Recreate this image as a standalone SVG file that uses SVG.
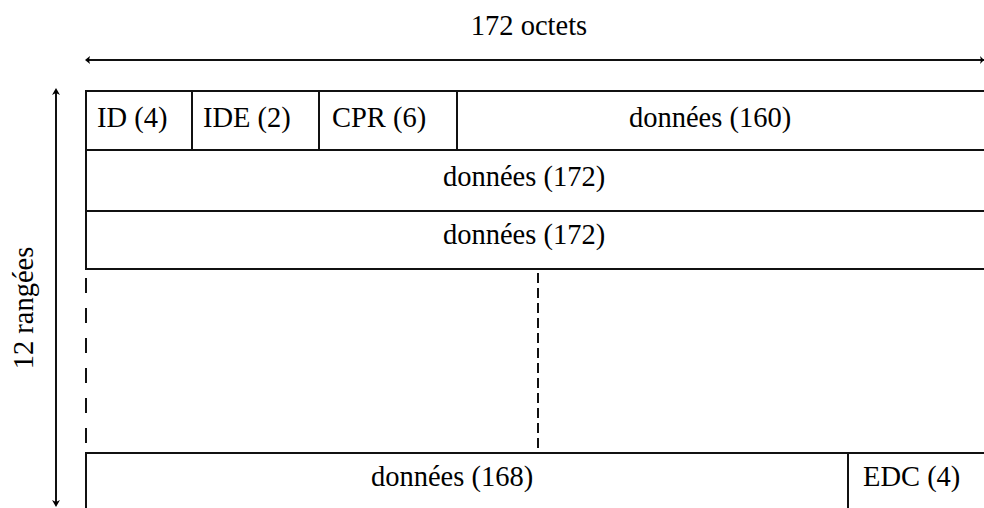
<svg xmlns="http://www.w3.org/2000/svg" width="984" height="508" viewBox="0 0 984 508">
  <style>
    .t { font-family: "Liberation Serif", "DejaVu Serif", "Times New Roman", serif; font-size: 28.5px; fill: #000; }
    .c { text-anchor: middle; }
    .ln { stroke: #111; stroke-width: 2; fill: none; }
    .dashL { stroke: #111; stroke-width: 2; fill: none; stroke-dasharray: 15 15; }
    .dashM { stroke: #111; stroke-width: 2; fill: none; stroke-dasharray: 10 5; }
    .head { fill: #000; stroke: none; }
  </style>
  <rect width="984" height="508" fill="#fff"/>

  <!-- dimension arrows -->
  <g id="dimensions">
    <line class="ln" x1="88" y1="60" x2="984" y2="60"/>
    <path class="head" d="M85,60 L90,56 L89,60 L90,64 Z"/>
    <path class="head" d="M984,60 L980,56 L981,60 L980,64 Z"/>
    <text class="t c" x="529" y="35">172 octets</text>
    <line class="ln" x1="56" y1="92" x2="56" y2="503"/>
    <path class="head" d="M56,88 L52,95 L56,93 L60,95 Z"/>
    <path class="head" d="M56,507 L52,500 L56,502 L60,500 Z"/>
    <text class="t c" transform="translate(33,308) rotate(-90)">12 rangées</text>
  </g>

  <!-- row outlines -->
  <g id="connectors">
    <line class="ln" x1="86" y1="91" x2="984" y2="91"/>
    <line class="ln" x1="86" y1="150" x2="984" y2="150"/>
    <line class="ln" x1="86" y1="211" x2="984" y2="211"/>
    <line class="ln" x1="86" y1="269" x2="984" y2="269"/>
    <line class="ln" x1="86" y1="453" x2="984" y2="453"/>
    <line class="ln" x1="86" y1="90" x2="86" y2="270"/>
    <line class="ln" x1="86" y1="452" x2="86" y2="508"/>
    <line class="dashL" x1="86" y1="278" x2="86" y2="450"/>
    <line class="dashM" x1="538" y1="273" x2="538" y2="452"/>
    <line class="ln" x1="192" y1="91" x2="192" y2="150"/>
    <line class="ln" x1="319" y1="91" x2="319" y2="150"/>
    <line class="ln" x1="457" y1="91" x2="457" y2="150"/>
    <line class="ln" x1="848" y1="453" x2="848" y2="508"/>
  </g>

  <g id="row1">
    <text class="t" x="97" y="127">ID (4)</text>
    <text class="t" x="203" y="127">IDE (2)</text>
    <text class="t" x="332" y="127">CPR (6)</text>
    <text class="t c" x="710" y="127">données (160)</text>
  </g>
  <g id="row2">
    <text class="t c" x="524" y="186">données (172)</text>
  </g>
  <g id="row3">
    <text class="t c" x="524" y="244">données (172)</text>
  </g>
  <g id="row12">
    <text class="t c" x="452" y="486">données (168)</text>
    <text class="t" x="863" y="486">EDC (4)</text>
  </g>
</svg>
